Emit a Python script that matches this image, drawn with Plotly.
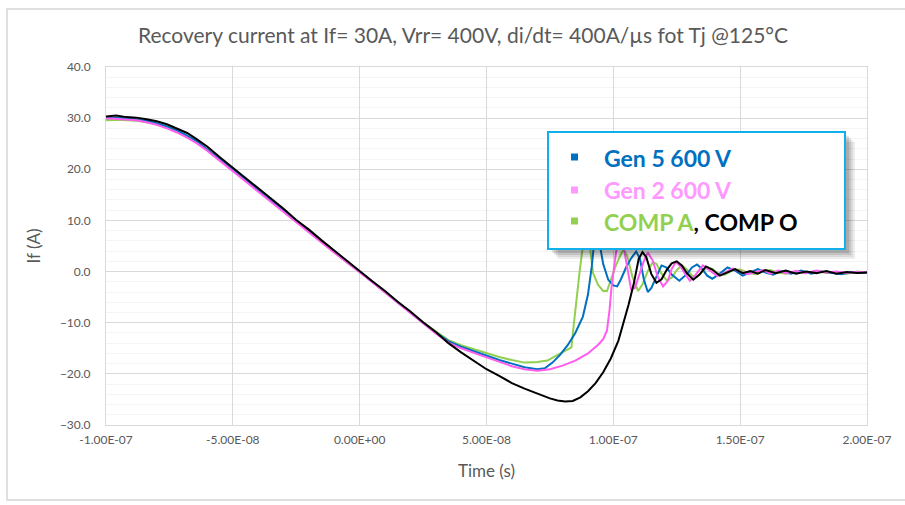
import numpy as np
import plotly.graph_objects as go

# ---------------- data (time in ns, current in A) ----------------
t_desc = [-100, -96, -92, -88, -84, -80, -76, -72, -68, -64, -60, -55, -50, -45, -40,
          -35, -30, -25, -20, -15, -10, -5, 0, 5, 10, 15, 20, 25, 30]

gen5_desc = [30.0, 30.1, 30.0, 29.8, 29.5, 29.0, 28.4, 27.6, 26.6, 25.4, 23.9, 21.9, 19.9, 17.9, 15.9,
             13.9, 11.9, 9.9, 7.9, 5.9, 3.9, 1.9, 0.0, -2.0, -4.0, -6.0, -8.0, -10.0, -11.9]
gen2_desc = [30.0, 29.9, 29.8, 29.6, 29.2, 28.7, 28.0, 27.2, 26.2, 25.0, 23.6, 21.6, 19.6, 17.6, 15.6,
             13.6, 11.6, 9.6, 7.7, 5.7, 3.7, 1.8, -0.1, -2.1, -4.1, -6.1, -8.2, -10.2, -12.1]
compa_desc = [29.6, 29.7, 29.6, 29.5, 29.2, 28.8, 28.2, 27.4, 26.4, 25.2, 23.8, 21.8, 19.8, 17.8, 15.8,
              13.8, 11.8, 9.8, 7.8, 5.8, 3.8, 1.8, 0.0, -2.0, -4.0, -5.9, -7.9, -9.9, -11.7]
compo_desc = [30.3, 30.5, 30.2, 30.1, 29.8, 29.4, 28.8, 28.0, 27.1, 25.8, 24.4, 22.3, 20.3, 18.2, 16.3,
              14.2, 12.3, 10.1, 8.2, 6.1, 4.1, 2.0, 0.1, -1.9, -3.8, -5.9, -7.8, -9.9, -11.8]

gen5_t = [35, 40, 45, 50, 55, 60, 65, 70, 73, 76, 79, 82, 85, 88, 90, 91.5, 92.5, 93.5, 94.5, 96,
          98, 100, 101.5, 103, 105, 107, 109, 110.5, 112, 113.6, 115, 117, 119, 121, 123, 126, 129,
          131, 133, 135, 137, 139, 142, 145, 148, 151, 154, 157, 160, 163, 166, 170, 174, 178, 182,
          186, 190, 194, 198, 200]
gen5_i = [-13.6, -14.7, -15.6, -16.5, -17.3, -18.0, -18.7, -19.1, -18.9, -17.8, -16.3, -14.4, -12.0,
          -8.8, -4.5, 1.0, 6.0, 8.5, 6.0, 1.5, -1.6, -2.7, -2.9, -1.5, 0.8, 2.6, 3.9, 2.5, -1.5, -4.0,
          -3.2, -1.0, 1.2, 0.8, -0.6, -1.8, -0.5, 0.8, 1.4, 0.5, -0.8, -1.4, -0.4, 0.8, 0.2, -0.8,
          -0.2, 0.5, -0.2, -0.6, 0.1, -0.4, 0.2, -0.4, 0.0, -0.3, -0.5, -0.1, -0.3, -0.2]

gen2_t = [35, 40, 45, 50, 55, 60, 65, 70, 75, 80, 85, 90, 94, 96, 97.5, 98.5, 99.3, 100, 101, 102,
          103, 104, 105.5, 107, 108.5, 110, 112, 113.6, 115.5, 117.5, 119.6, 121.5, 123, 124.7, 126.5,
          128.5, 130.2, 132.5, 135.3, 138, 141, 144, 147, 150, 153, 156, 159, 162, 165, 168, 172,
          176, 180, 184, 188, 192, 196, 200]
gen2_i = [-13.9, -15.0, -15.9, -16.8, -17.7, -18.5, -19.1, -19.4, -19.1, -18.4, -17.4, -16.0, -14.3,
          -13.2, -11.5, -7.5, -3.0, 0.0, 3.5, 6.5, 7.5, 5.0, 0.5, -3.5, -3.2, -1.0, 2.0, 3.7, 2.2,
          -1.0, -2.9, -1.8, 0.5, 1.9, 1.0, -0.6, -1.8, -0.6, 1.2, 0.2, -0.9, -0.2, 0.6, 0.0, -0.5,
          -0.1, 0.3, -0.4, 0.2, -0.3, 0.1, -0.3, 0.2, -0.2, 0.0, -0.3, -0.1, -0.2]

compa_t = [35, 40, 45, 50, 55, 60, 65, 70, 74, 77, 80, 83.5, 84.2, 85.5, 86.8, 88, 89.5, 90.5, 92,
           94, 96, 97.5, 99, 101, 102.6, 104, 105.5, 107.5, 109.8, 111.5, 113.5, 115.5, 117, 119,
           121, 123, 125, 127, 129, 131, 133, 135, 137, 139, 141, 144, 147, 150, 153, 156, 159, 162,
           165, 168, 172, 176, 180, 184, 188, 192, 196, 200]
compa_i = [-13.4, -14.4, -15.2, -16.0, -16.7, -17.3, -17.8, -17.7, -17.4, -16.6, -15.8, -14.8, -11.3,
           -4.8, 0.4, 5.0, 9.0, 6.0, -0.3, -2.6, -3.8, -3.8, -1.5, 1.2, 3.0, 4.3, 3.0, -1.0, -3.8,
           -2.5, 0.0, 1.8, 1.5, -0.4, -1.7, -1.2, 0.3, 1.2, 0.4, -0.8, -1.0, 0.0, 0.8, 0.5, -0.3,
           -0.6, 0.3, 0.4, -0.2, -0.5, 0.1, 0.3, -0.2, -0.4, 0.0, -0.3, 0.1, -0.3, -0.1, -0.4, 0.0, -0.2]

compo_t = [35, 40, 45, 50, 55, 60, 65, 70, 75, 78, 81, 84, 87, 90, 93, 96, 99, 102, 104, 106, 108,
           110, 111.5, 113, 115, 117, 119, 121, 123, 125, 127, 129, 131.5, 134, 136.5, 139, 142,
           145, 148, 151, 154, 157, 160, 164, 168, 172, 176, 180, 184, 188, 192, 196, 200]
compo_i = [-14.0, -15.8, -17.5, -19.1, -20.4, -21.8, -22.9, -23.9, -24.8, -25.2, -25.4, -25.3, -24.6,
           -23.4, -21.8, -19.7, -17.0, -13.5, -10.2, -6.5, -2.5, 2.5, 3.8, 2.8, -0.5, -2.2, -1.5,
           0.3, 1.6, 2.0, 1.2, -0.3, -1.6, -0.6, 1.0, 0.4, -0.8, -0.2, 0.5, -0.3, 0.1, -0.4, 0.3,
           -0.3, 0.2, -0.4, 0.0, -0.3, 0.1, -0.4, -0.1, -0.3, -0.2]

x_tickvals = [-1e-7, -5e-8, 0, 5e-8, 1e-7, 1.5e-7, 2e-7]
x_ticktext = ["-1.00E-07", "-5.00E-08", "0.00E+00", "5.00E-08", "1.00E-07", "1.50E-07", "2.00E-07"]

series = [
    ("COMP A", compa_desc, compa_t, compa_i, "#92d050"),
    ("Gen 5 600 V", gen5_desc, gen5_t, gen5_i, "#0070c0"),
    ("Gen 2 600 V", gen2_desc, gen2_t, gen2_i, "#ff5cf0"),
    ("COMP O", compo_desc, compo_t, compo_i, "#000000"),
]

GRAY = "#595959"
FONT = "Lato"

fig = go.Figure()
for name, desc, tt, ii, col in series:
    t_all = np.array(t_desc + tt, dtype=float) * 1e-9
    i_all = np.array(desc + ii, dtype=float)
    fig.add_trace(go.Scatter(x=t_all, y=i_all, mode="lines", name=name,
                             line=dict(color=col, width=2), showlegend=False))

# plot area in pixels: left 106, right 867, top 67, bottom 425
L, R, T, B = 106, 867, 67, 425
def fx(px):
    return (px - L) / (R - L)
def fy(py):
    return (B - py) / (B - T)

shapes = []
# outer slide frame
shapes.append(dict(type="rect", xref="paper", yref="paper", x0=fx(7), x1=fx(909), y0=fy(500), y1=fy(9),
                   line=dict(color="#d6d6d6", width=1.5), fillcolor="rgba(0,0,0,0)", layer="below"))
# legend box shadow
for off, op in [(10, 0.07), (8, 0.08), (6, 0.10), (4, 0.12)]:
    shapes.append(dict(type="rect", xref="paper", yref="paper",
                       x0=fx(548 + off), x1=fx(845 + off), y0=fy(249 + off), y1=fy(132 + off),
                       line=dict(width=0), fillcolor=f"rgba(0,0,0,{op})", layer="above"))
shapes.append(dict(type="rect", xref="paper", yref="paper", x0=fx(548), x1=fx(845), y0=fy(249), y1=fy(132),
                   line=dict(color="#12b0ea", width=2), fillcolor="white", layer="above"))
# legend markers
for cy, col in [(157, "#0070c0"), (190, "#ff99ff"), (221, "#92d050")]:
    shapes.append(dict(type="rect", xref="paper", yref="paper", x0=fx(571), x1=fx(578), y0=fy(cy + 3.5),
                       y1=fy(cy - 3.5), line=dict(width=0), fillcolor=col, layer="above"))

annotations = []
legend_rows = [
    (158, "<b><span style='color:#0070c0'>Gen 5 600 V</span></b>"),
    (190, "<b><span style='color:#ff99ff'>Gen 2 600 V</span></b>"),
    (222, "<b><span style='color:#92d050'>COMP A</span><span style='color:#000000'>, COMP O</span></b>"),
]
for cy, txt in legend_rows:
    annotations.append(dict(xref="paper", yref="paper", x=fx(602), y=fy(cy), xanchor="left", yanchor="middle",
                            text=txt, showarrow=False, font=dict(family=FONT, size=23)))

fig.update_layout(
    width=905, height=505,
    margin=dict(l=L, r=905 - R, t=T, b=505 - B),
    paper_bgcolor="white", plot_bgcolor="white",
    title=dict(text="Recovery current at If= 30A, Vrr= 400V, di/dt= 400A/µs fot Tj @125°C",
               x=463 / 905, xanchor="center", xref="container",
               y=1 - 36 / 505, yanchor="middle", yref="container",
               font=dict(family=FONT, size=21, color=GRAY)),
    xaxis=dict(range=[-1e-7, 2e-7], tickvals=x_tickvals, ticktext=x_ticktext,
               showgrid=True, gridcolor="#d9d9d9", gridwidth=1, zeroline=False,
               showline=True, linecolor="#d9d9d9", mirror=True, ticks="",
               tickfont=dict(family=FONT, size=12, color=GRAY), ticklabelstandoff=4,
               title=dict(text="Time (s)", font=dict(family=FONT, size=17, color=GRAY), standoff=18)),
    yaxis=dict(range=[-30, 40], dtick=10, tickformat=".1f",
               showgrid=True, gridcolor="#d9d9d9", gridwidth=1, zeroline=False,
               showline=True, linecolor="#d9d9d9", mirror=True, ticks="",
               minor=dict(dtick=2, showgrid=True, gridcolor="#f4f4f4"),
               tickfont=dict(family=FONT, size=12, color=GRAY), ticklabelstandoff=12,
               title=dict(text="If (A)", font=dict(family=FONT, size=17, color=GRAY), standoff=14)),
    shapes=shapes, annotations=annotations,
    showlegend=False,
)

fig.write_html("out.html")
